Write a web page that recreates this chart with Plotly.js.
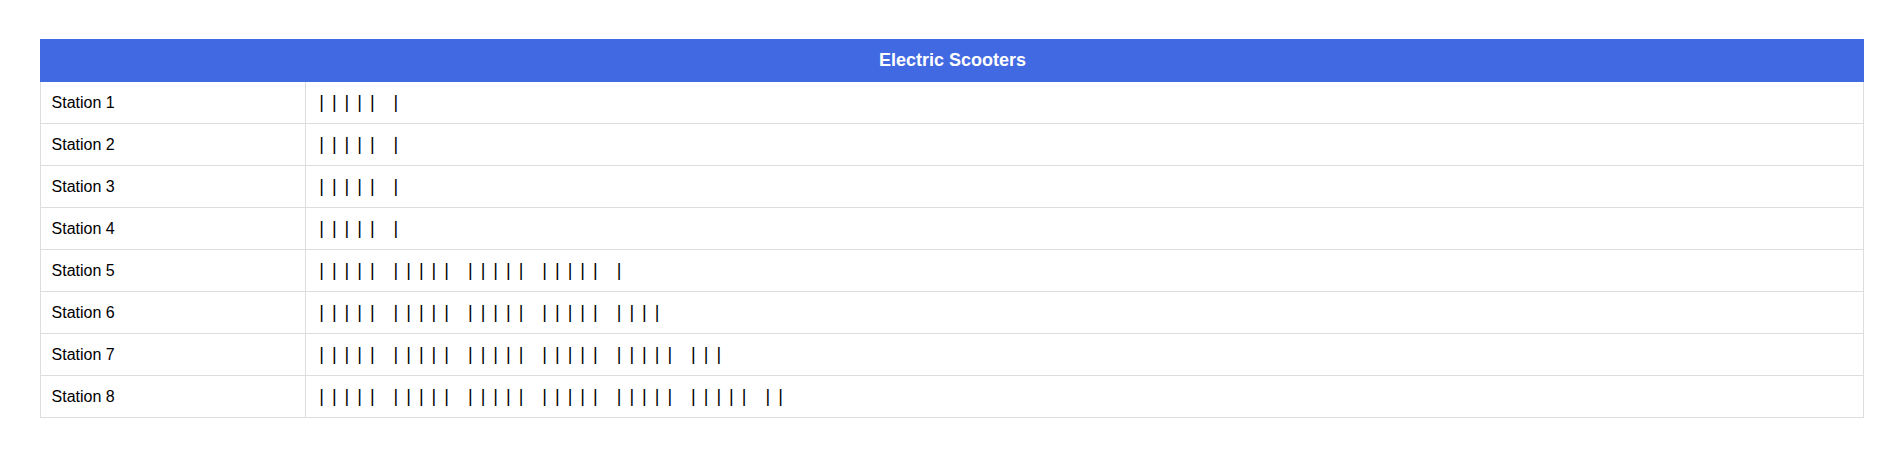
<!DOCTYPE html>
<html>
<head>
<meta charset="utf-8">
<script src="https://cdn.plot.ly/plotly-3.0.1.min.js"></script>
<style>
  html, body { margin: 0; padding: 0; background: #ffffff; }
  #chart { width: 1904px; height: 458px; }
</style>
</head>
<body>
<div id="chart"></div>
<script>
// ---- data ----
const title = "Electric Scooters";
const stations = ["Station 1", "Station 2", "Station 3", "Station 4", "Station 5", "Station 6", "Station 7", "Station 8"];
const counts = [6, 6, 6, 6, 21, 24, 28, 32];

// build tally strings (groups of five) from counts
const BAR = "|";
const IN_GAP = "\u00A0\u2006";
const GROUP_GAP = "\u00A0\u00A0\u2002";
function tally(n) {
  const groups = [];
  let rest = n;
  while (rest > 0) {
    const k = Math.min(5, rest);
    groups.push(Array(k).fill(BAR).join(IN_GAP));
    rest -= k;
  }
  return groups.join(GROUP_GAP);
}
// a leading space at the larger cell font lowers the baseline; the span sets the visible size
const labelCells = stations.map(s => '\u2006<span style="font-size:16px">' + s + '</span><br>');
const tallyCells = counts.map(n => '\u2005<span style="font-size:18px">' + tally(n) + '</span><br>');

const W = 1904, H = 458;
const tblLeft = 40, tblRight = 1864, tblTop = 39;

const trace = {
  type: "table",
  domain: { x: [tblLeft / W, tblRight / W], y: [0, 1 - tblTop / H] },
  columnwidth: [266, 1558],
  header: {
    values: ["", ""],
    height: 42,
    fill: { color: "#4169E1" },
    line: { color: "#4169E1", width: 1 },
    font: { family: "Liberation Sans, Arial, sans-serif", size: 18, color: "#ffffff" }
  },
  cells: {
    values: [labelCells, tallyCells],
    height: 42,
    align: ["left", "left"],
    fill: { color: "#ffffff" },
    line: { color: "#dddddd", width: 1 },
    font: { family: "Liberation Sans, Arial, sans-serif", size: [21.5, 21.5], color: "#000000" }
  }
};

const layout = {
  width: W,
  height: H,
  margin: { l: 0, r: 0, t: 0, b: 0 },
  paper_bgcolor: "#ffffff",
  showlegend: false,
  annotations: [{
    text: "<b>" + title + "</b>",
    xref: "paper", yref: "paper",
    x: (tblLeft + tblRight) / 2 / W, y: 1 - 60 / H,
    xanchor: "center", yanchor: "middle",
    showarrow: false,
    font: { family: "Liberation Sans, Arial, sans-serif", size: 18, color: "#ffffff" }
  }]
};

Plotly.newPlot("chart", [trace], layout, { displayModeBar: false, staticPlot: true });
</script>
</body>
</html>
